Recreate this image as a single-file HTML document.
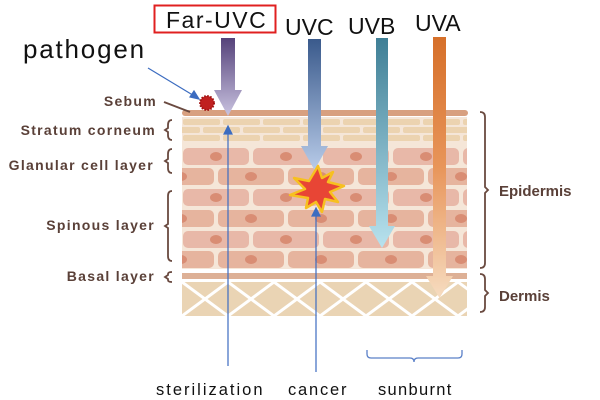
<!DOCTYPE html>
<html><head><meta charset="utf-8"><style>body{margin:0;background:#fff}svg{display:block}</style></head><body>
<svg width="600" height="400" viewBox="0 0 600 400" xmlns="http://www.w3.org/2000/svg" font-family="Liberation Sans, sans-serif">
<defs>
<pattern id="cellA" x="182" y="0" width="70" height="100" patternUnits="userSpaceOnUse">
<rect x="1" y="1" width="66" height="17" rx="5" fill="#e8b8a8"/><ellipse cx="34" cy="9.5" rx="6" ry="4.5" fill="#d98d74"/></pattern>
<pattern id="cellB" x="147" y="0" width="70" height="100" patternUnits="userSpaceOnUse">
<rect x="1" y="1" width="66" height="17" rx="5" fill="#e6b49e"/><ellipse cx="34" cy="9.5" rx="6" ry="4.5" fill="#d98d74"/></pattern>
<pattern id="sc1" x="182" y="0" width="40" height="100" patternUnits="userSpaceOnUse"><rect x="1" y="0" width="37" height="6" rx="2" fill="#ecd3b0"/></pattern>
<pattern id="sc2" x="202" y="0" width="40" height="100" patternUnits="userSpaceOnUse"><rect x="1" y="0" width="37" height="6" rx="2" fill="#ecd3b0"/></pattern>
<pattern id="derm" x="182" y="282" width="46" height="34" patternUnits="userSpaceOnUse">
<rect width="46" height="34" fill="#ead4b4"/><path d="M0 0L46 34M46 0L0 34" stroke="#fff" stroke-width="3"/></pattern>
<linearGradient id="g1" x1="0" y1="0" x2="0" y2="1"><stop offset="0" stop-color="#55427a"/><stop offset="1" stop-color="#c9c3e0"/></linearGradient>
<linearGradient id="g2" x1="0" y1="0" x2="0" y2="1"><stop offset="0" stop-color="#3a5a8c"/><stop offset="1" stop-color="#b8cbe8"/></linearGradient>
<linearGradient id="g3" x1="0" y1="0" x2="0" y2="1"><stop offset="0" stop-color="#3f7f96"/><stop offset="1" stop-color="#b8e2ee"/></linearGradient>
<linearGradient id="g4" x1="0" y1="0" x2="0" y2="1"><stop offset="0" stop-color="#d6702a"/><stop offset="0.5" stop-color="#e8955a"/><stop offset="1" stop-color="#f6dcc0"/></linearGradient>
</defs>
<rect x="182" y="117" width="285" height="152" fill="#f5e6d8"/>
<rect x="182" y="110" width="286" height="6" rx="3" fill="#d8a080"/>
<rect x="182" y="0" width="285" height="6" fill="url(#sc1)" transform="translate(0,119)"/>
<rect x="182" y="0" width="285" height="6" fill="url(#sc2)" transform="translate(0,127)"/>
<rect x="182" y="0" width="285" height="6" fill="url(#sc1)" transform="translate(0,135)"/>
<rect x="182" y="0" width="285" height="20" fill="url(#cellA)" transform="translate(0,147)"/>
<rect x="182" y="0" width="285" height="20" fill="url(#cellB)" transform="translate(0,167)"/>
<rect x="182" y="0" width="285" height="20" fill="url(#cellA)" transform="translate(0,188)"/>
<rect x="182" y="0" width="285" height="20" fill="url(#cellB)" transform="translate(0,209)"/>
<rect x="182" y="0" width="285" height="20" fill="url(#cellA)" transform="translate(0,230)"/>
<rect x="182" y="0" width="285" height="20" fill="url(#cellB)" transform="translate(0,250)"/>
<rect x="182" y="273" width="285" height="6" fill="#ddb096"/>
<rect x="182" y="282" width="285" height="34" fill="url(#derm)"/>
<g fill="#5a4038" font-size="14" font-weight="bold" text-anchor="end" letter-spacing="1.3">
<text x="157" y="106">Sebum</text>
<text x="156" y="135">Stratum corneum</text>
<text x="154" y="170">Glanular cell layer</text>
<text x="155" y="230">Spinous layer</text>
<text x="155" y="281">Basal layer</text>
</g>
<line x1="164" y1="102" x2="190" y2="112" stroke="#6a4a40" stroke-width="2"/>
<g fill="none" stroke="#6a4a40" stroke-width="1.8">
<path d="M172 120q-4 0-4 5v3l-3 2 3 2v3q0 5 4 5"/>
<path d="M172 149q-4 0-4 5v5l-3 2 3 2v5q0 5 4 5"/>
<path d="M172 191q-4 0-4 5v28l-3 2 3 2v28q0 5 4 5"/>
<path d="M172 272q-4 0-4 2v1l-3 2 3 2v1q0 2 4 2"/>
<path d="M480 112q5 0 5 5v70l3 3-3 3v70q0 5-5 5"/>
<path d="M480 274q5 0 5 5v11l3 3-3 3v11q0 5-5 5"/>
</g>
<g fill="#5a4038" font-size="15" font-weight="bold">
<text x="499" y="196">Epidermis</text>
<text x="499" y="301">Dermis</text>
</g>
<path d="M221 38h14v52h7l-14 26-14-26h7z" fill="url(#g1)"/>
<path d="M308 39h13v107h7l-13.5 24-13.5-24h7z" fill="url(#g2)"/>
<path d="M376 38h12v188h7l-13 22-13-22h7z" fill="url(#g3)"/>
<path d="M433 37h13v239h7l-13.5 22-13.5-22h7z" fill="url(#g4)"/>
<polygon points="318,166 322,178 333,172 328,182 344,186 330,192 338,202 325,199 322,212 316,202 306,208 308,198 290,195 305,189 294,178 309,181" fill="#e84535" stroke="#f7c020" stroke-width="2.5" stroke-linejoin="round"/>
<circle cx="207" cy="103" r="7" fill="#c02020" stroke="#a01010" stroke-dasharray="1.5 1.5" stroke-width="2"/>
<g stroke="#3c6cc0" stroke-width="1.2" fill="#3c6cc0">
<line x1="148" y1="68" x2="196" y2="97"/><polygon points="199,99 190,97 194,91"/>
<line x1="228" y1="366" x2="228" y2="132"/><polygon points="228,126 224,134 232,134"/>
<line x1="316" y1="372" x2="316" y2="214"/><polygon points="316,208 312,216 320,216"/>
</g>
<path d="M367 350v4q0 4 4 4h39q4 0 4 4q0-4 4-4h40q4 0 4-4v-4" fill="none" stroke="#5a80c8" stroke-width="1.3"/>
<rect x="154.5" y="5.5" width="121" height="27" fill="none" stroke="#e02020" stroke-width="2"/>
<g fill="#111" font-size="23">
<text x="166" y="28" letter-spacing="1.5">Far-UVC</text>
<text x="285" y="35">UVC</text>
<text x="348" y="34">UVB</text>
<text x="415" y="31">UVA</text>
<text x="23" y="58" font-size="26" letter-spacing="1.8">pathogen</text>
</g>
<g fill="#111" font-size="16.5">
<text x="156" y="395" letter-spacing="2">sterilization</text>
<text x="288" y="395" letter-spacing="1.8">cancer</text>
<text x="378" y="395" letter-spacing="1.3">sunburnt</text>
</g>
</svg>
</body></html>
